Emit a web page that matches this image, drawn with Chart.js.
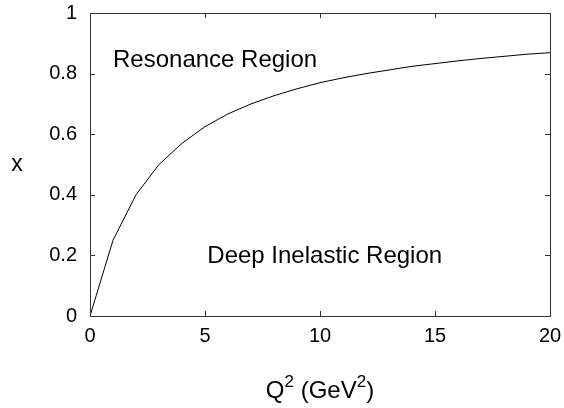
<!DOCTYPE html>
<html>
<head>
<meta charset="utf-8">
<script src="https://cdn.jsdelivr.net/npm/chart.js@4/dist/chart.umd.min.js"></script>
<style>
  html, body { margin: 0; padding: 0; background: #fff; }
  #chart { display: block; }
</style>
</head>
<body>
<canvas id="chart" width="564" height="408"></canvas>
<script>
// kinematic boundary x vs Q^2 at integer Q^2
const q2Values = [0, 1, 2, 3, 4, 5, 6, 7, 8, 9, 10, 11, 12, 13, 14, 15, 16, 17, 18, 19, 20];
const xValues = [0, 0.25, 0.40, 0.50, 0.57, 0.625, 0.667, 0.70, 0.727, 0.75, 0.77,
                 0.786, 0.80, 0.812, 0.824, 0.833, 0.842, 0.85, 0.857, 0.864, 0.869];
const xTicks = [0, 5, 10, 15, 20];
const yTicks = [0, 0.2, 0.4, 0.6, 0.8, 1];
const regionLabels = ["Resonance Region", "Deep Inelastic Region"];
const regionAnchors = [[1.0, 0.822], [5.1, 0.175]];

const fontFamily = "'Liberation Sans', Arial, Helvetica, sans-serif";
const frameColor = "#333";

const noPad = s => { s.paddingLeft = 0; s.paddingRight = 0; s.paddingTop = 0; s.paddingBottom = 0; };

// frame with inward ticks on all four sides, titles and region labels
const framePlugin = {
    id: "frame",
    afterDraw(chart) {
        const ctx = chart.ctx;
        const a = chart.chartArea;
        const xs = chart.scales.x;
        const ys = chart.scales.y;
        const tickLen = 5;

        ctx.save();
        ctx.strokeStyle = frameColor;
        ctx.lineWidth = 1;
        ctx.strokeRect(Math.round(a.left) + 0.5, Math.round(a.top) + 0.5,
                       Math.round(a.right - a.left), Math.round(a.bottom - a.top));

        ctx.beginPath();
        xTicks.forEach(v => {
            const px = Math.round(xs.getPixelForValue(v)) + 0.5;
            ctx.moveTo(px, a.bottom);
            ctx.lineTo(px, a.bottom - tickLen);
            ctx.moveTo(px, a.top);
            ctx.lineTo(px, a.top + tickLen);
        });
        yTicks.forEach(v => {
            const py = Math.round(ys.getPixelForValue(v)) + 0.5;
            ctx.moveTo(a.left, py);
            ctx.lineTo(a.left + tickLen, py);
            ctx.moveTo(a.right, py);
            ctx.lineTo(a.right - tickLen, py);
        });
        ctx.stroke();

        ctx.fillStyle = "#000";
        ctx.textBaseline = "alphabetic";
        ctx.textAlign = "left";
        ctx.font = "24px " + fontFamily;
        regionLabels.forEach((label, i) => {
            const [qx, qy] = regionAnchors[i];
            ctx.fillText(label, xs.getPixelForValue(qx), ys.getPixelForValue(qy));
        });

        // x axis title with superscripts
        const big = "24px " + fontFamily;
        const small = "17px " + fontFamily;
        const parts = [["Q", big, 0], ["2", small, -11], [" (GeV", big, 0], ["2", small, -11], [")", big, 0]];
        let total = 0;
        parts.forEach(p => { ctx.font = p[1]; total += ctx.measureText(p[0]).width; });
        let cx = (a.left + a.right) / 2 - total / 2;
        const base = 398;
        parts.forEach(p => {
            ctx.font = p[1];
            ctx.fillText(p[0], cx, base + p[2]);
            cx += ctx.measureText(p[0]).width;
        });

        // y axis title
        ctx.font = "23px " + fontFamily;
        ctx.textAlign = "center";
        ctx.fillText("x", 17, (a.top + a.bottom) / 2 + 6);
        ctx.restore();
    }
};

new Chart(document.getElementById("chart"), {
    type: "scatter",
    data: {
        datasets: [{
            data: q2Values.map((q, i) => ({ x: q, y: xValues[i] })),
            showLine: true,
            borderColor: "#000",
            borderWidth: 1,
            pointRadius: 0,
            tension: 0,
            fill: false
        }]
    },
    options: {
        responsive: false,
        animation: false,
        layout: { padding: { top: 13, right: 14, left: 0, bottom: 0 } },
        plugins: {
            legend: { display: false },
            tooltip: { enabled: false }
        },
        scales: {
            x: {
                type: "linear",
                min: 0,
                max: 20,
                afterBuildTicks: s => { s.ticks = xTicks.map(v => ({ value: v })); },
                afterFit: s => { s.height = 92; noPad(s); },
                grid: { display: false, drawTicks: false },
                border: { display: false },
                ticks: {
                    color: "#000",
                    padding: 8,
                    maxRotation: 0,
                    font: { family: fontFamily, size: 20 }
                }
            },
            y: {
                type: "linear",
                min: 0,
                max: 1,
                afterBuildTicks: s => { s.ticks = yTicks.map(v => ({ value: v })); },
                afterFit: s => { s.width = 90; noPad(s); },
                grid: { display: false, drawTicks: false },
                border: { display: false },
                ticks: {
                    color: "#000",
                    padding: 13,
                    font: { family: fontFamily, size: 20 },
                    callback: v => String(v)
                }
            }
        }
    },
    plugins: [framePlugin]
});
</script>
</body>
</html>
